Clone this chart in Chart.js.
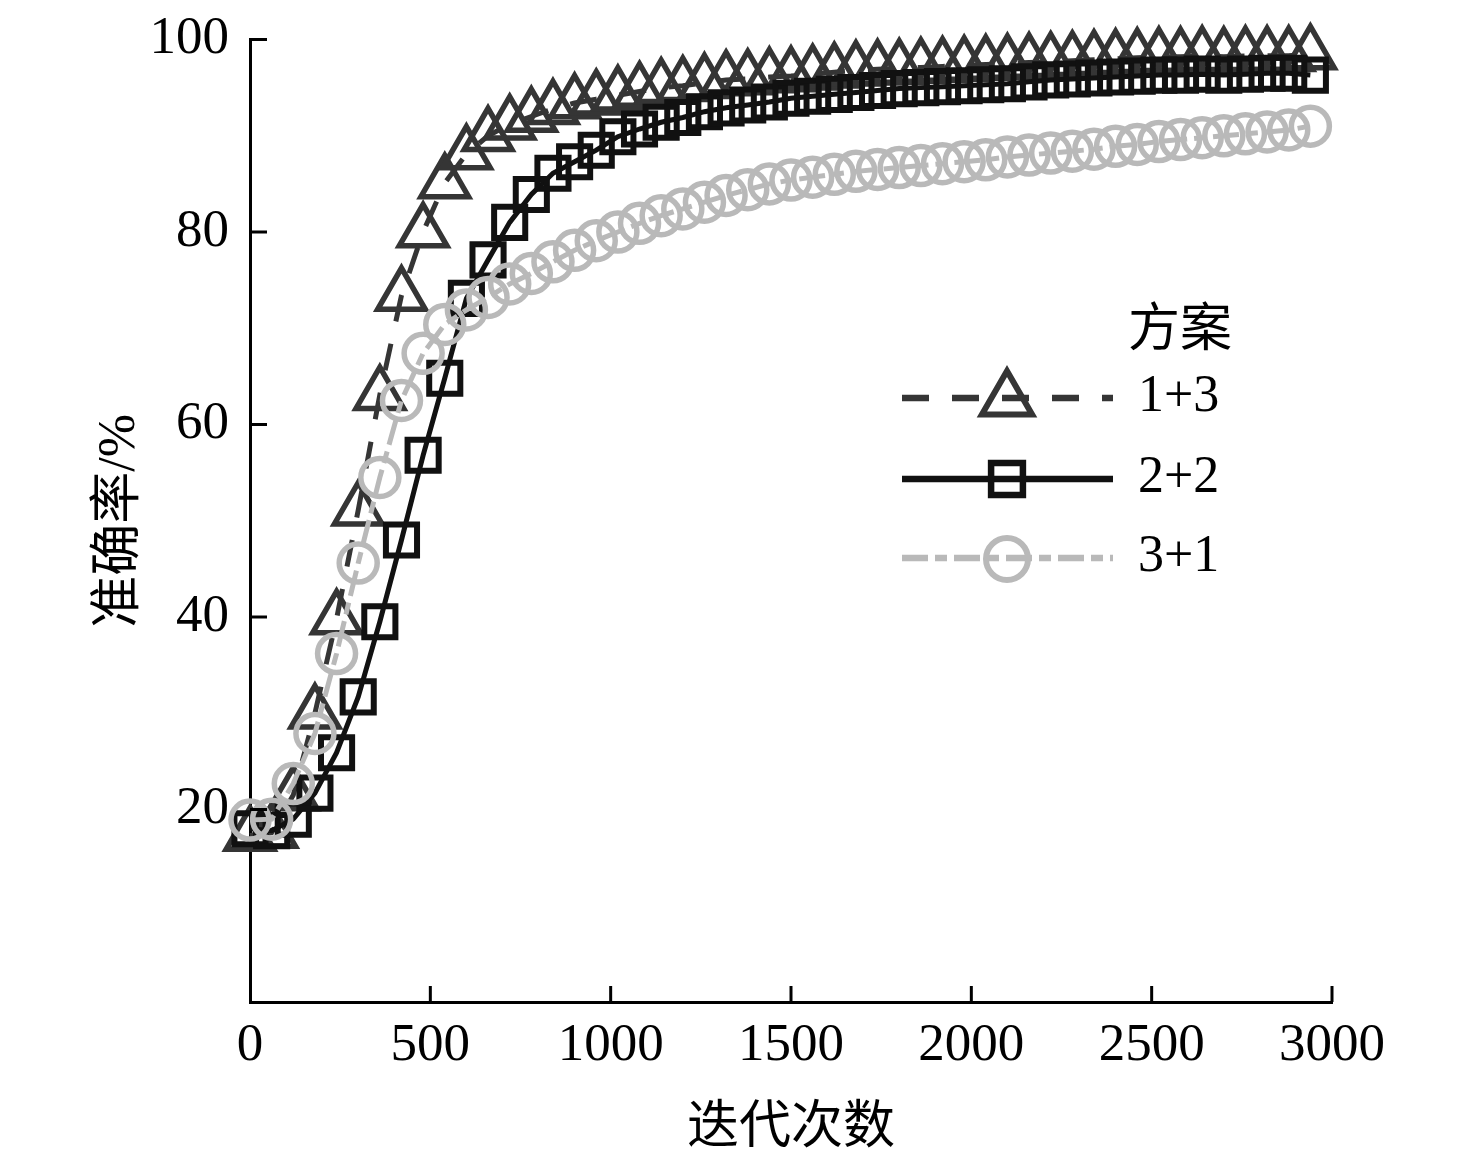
<!DOCTYPE html>
<html>
<head>
<meta charset="utf-8">
<script src="https://cdn.jsdelivr.net/npm/chart.js@4.4.1/dist/chart.umd.min.js"></script>
<style>
  html, body { margin: 0; padding: 0; background: #fff; }
  canvas { display: block; }
</style>
</head>
<body>
<canvas id="acc-chart" width="1476" height="1157"></canvas>
<script>
// DATA
const iterations = [0, 60, 120, 180, 240, 300, 360, 420, 480, 540, 600, 660, 720, 780, 840, 900, 960, 1020, 1080, 1140,
  1200, 1260, 1320, 1380, 1440, 1500, 1560, 1620, 1680, 1740, 1800, 1860, 1920, 1980, 2040, 2100, 2160, 2220, 2280, 2340,
  2400, 2460, 2520, 2580, 2640, 2700, 2760, 2820, 2880, 2940];

const acc13 = [17.3, 17.6, 21.5, 30.0, 39.8, 51.1, 63.1, 73.4, 80.0, 85.1,
  88.1, 90.0, 91.2, 92.0, 92.8, 93.4, 93.8, 94.2, 94.6, 95.0,
  95.2, 95.5, 95.8, 95.9, 96.1, 96.2, 96.4, 96.6, 96.8, 96.9,
  97.0, 97.1, 97.2, 97.3, 97.4, 97.5, 97.6, 97.7, 97.8, 97.9,
  98.0, 98.1, 98.2, 98.2, 98.3, 98.2, 98.3, 98.3, 98.3, 98.5];

const acc22 = [18.0, 17.8, 19.0, 21.7, 25.9, 31.7, 39.5, 48.0, 56.8, 64.8,
  73.1, 77.1, 81.0, 83.9, 86.1, 87.3, 88.5, 89.9, 90.7, 91.4,
  91.9, 92.5, 92.9, 93.2, 93.5, 93.9, 94.1, 94.3, 94.5, 94.7,
  94.9, 95.0, 95.1, 95.2, 95.3, 95.4, 95.6, 95.8, 95.9, 96.0,
  96.1, 96.2, 96.3, 96.3, 96.4, 96.3, 96.4, 96.5, 96.5, 96.3];

const acc31 = [18.9, 19.0, 22.7, 27.9, 36.2, 45.6, 54.5, 62.5, 67.4, 70.4,
  71.9, 73.2, 74.6, 75.7, 76.9, 78.1, 79.1, 80.0, 80.9, 81.7,
  82.4, 83.1, 83.8, 84.4, 85.0, 85.4, 85.7, 86.0, 86.3, 86.5,
  86.7, 86.9, 87.1, 87.3, 87.5, 87.8, 88.0, 88.2, 88.4, 88.6,
  88.9, 89.1, 89.4, 89.6, 89.8, 90.0, 90.2, 90.4, 90.6, 91.0];

const seriesNames = ["1+3", "2+2", "3+1"];
const xTicks = [0, 500, 1000, 1500, 2000, 2500, 3000];
const yTicks = [0, 20, 40, 60, 80, 100];

// STYLE
const SERIF = '"Liberation Serif", "Times New Roman", serif';
const CJK = '"Noto Sans CJK SC", sans-serif';
const styles = [
  { color: "#353535", dash: [27, 23], marker: "triangle", r: 27.5, legendR: 29, bw: 5.5 },
  { color: "#111111", dash: [], marker: "rect", r: 22, legendR: 22.5, bw: 6 },
  { color: "#b9b9b9", dash: [26, 7, 12, 7], marker: "circle", r: 19, legendR: 21, bw: 5.5 },
];

function toPoints(values) {
  return iterations.map((it, i) => ({ x: it, y: values[i] }));
}

function drawMarker(ctx, style, r, x, y) {
  ctx.beginPath();
  if (style === "triangle") {
    for (let k = 0; k < 3; k++) {
      const a = k * 2 * Math.PI / 3;
      const px = x + Math.sin(a) * r, py = y - Math.cos(a) * r;
      if (k === 0) ctx.moveTo(px, py); else ctx.lineTo(px, py);
    }
    ctx.closePath();
  } else if (style === "rect") {
    const s = r * Math.SQRT1_2;
    ctx.rect(x - s, y - s, 2 * s, 2 * s);
  } else {
    ctx.arc(x, y, r, 0, 2 * Math.PI);
  }
  ctx.stroke();
}

// ticks pointing into the plot, plus the legend
const axisDecor = {
  id: "axisDecor",
  afterDraw(chart) {
    const { ctx, chartArea, scales: { x, y } } = chart;
    ctx.save();
    ctx.strokeStyle = "#000";
    ctx.lineWidth = 3;
    xTicks.slice(1).forEach(v => {
      const px = x.getPixelForValue(v);
      ctx.beginPath();
      ctx.moveTo(px, chartArea.bottom);
      ctx.lineTo(px, chartArea.bottom - 16);
      ctx.stroke();
    });
    yTicks.slice(1).forEach(v => {
      const py = y.getPixelForValue(v);
      ctx.beginPath();
      ctx.moveTo(chartArea.left, py);
      ctx.lineTo(chartArea.left + 17, py);
      ctx.stroke();
    });

    // legend
    ctx.fillStyle = "#000";
    ctx.textBaseline = "middle";
    ctx.textAlign = "left";
    ctx.font = "52px " + CJK;
    ctx.fillText("方案", 1128, 326);
    const rowsY = [398, 479, 558];
    const markerOffset = [2, 0, 1];
    seriesNames.forEach((name, i) => {
      const st = styles[i];
      const ly = rowsY[i];
      ctx.strokeStyle = st.color;
      ctx.lineWidth = 6.5;
      ctx.lineCap = "butt";
      ctx.setLineDash(st.dash);
      ctx.beginPath();
      ctx.moveTo(902, ly);
      ctx.lineTo(1113, ly);
      ctx.stroke();
      ctx.setLineDash([]);
      ctx.lineWidth = st.bw + 0.5;
      drawMarker(ctx, st.marker, st.legendR, 1007, ly + markerOffset[i]);
      ctx.fillStyle = "#000";
      ctx.font = "52px " + SERIF;
      ctx.fillText(name, 1138, ly - 1);
    });
    ctx.restore();
  }
};

const allSeries = [acc13, acc22, acc31];

const chart = new Chart(document.getElementById("acc-chart").getContext("2d"), {
  type: "line",
  data: {
    datasets: allSeries.map((values, i) => ({
      label: seriesNames[i],
      data: toPoints(values),
      borderColor: styles[i].color,
      borderWidth: 5,
      borderDash: styles[i].dash,
      pointStyle: styles[i].marker,
      pointRadius: styles[i].r,
      pointBorderWidth: styles[i].bw,
      pointBorderColor: styles[i].color,
      pointBackgroundColor: "rgba(0,0,0,0)",
      tension: 0,
      clip: false,
      order: 3 - i,
    })),
  },
  options: {
    responsive: false,
    devicePixelRatio: 1,
    animation: false,
    events: [],
    layout: { padding: { left: 0, top: 39.5, right: 144, bottom: 0 } },
    plugins: {
      legend: { display: false },
      tooltip: { enabled: false },
    },
    scales: {
      x: {
        type: "linear",
        min: 0,
        max: 3000,
        afterBuildTicks: scale => { scale.ticks = xTicks.map(v => ({ value: v })); },
        afterFit: scale => {
          scale.height = 155;
          scale.paddingLeft = 0;
          scale.paddingRight = 0;
        },
        grid: { display: false, drawTicks: false },
        border: { display: true, color: "#000", width: 3 },
        ticks: {
          color: "#000",
          padding: 12,
          maxRotation: 0,
          callback: v => String(v),
          font: { family: SERIF, size: 53, lineHeight: 1.2 },
        },
        title: {
          display: true,
          text: "迭代次数",
          color: "#000",
          padding: { top: 0, bottom: 3 },
          font: { family: CJK, size: 52, lineHeight: 1.2 },
        },
      },
      y: {
        type: "linear",
        min: 0,
        max: 100,
        afterBuildTicks: scale => { scale.ticks = yTicks.map(v => ({ value: v })); },
        afterFit: scale => {
          scale.width = 250;
          scale.paddingTop = 0;
          scale.paddingBottom = 0;
        },
        grid: { display: false, drawTicks: false },
        border: { display: true, color: "#000", width: 3 },
        ticks: {
          color: "#000",
          padding: 21,
          callback: v => (v === 0 ? "" : String(v)),
          font: { family: SERIF, size: 53, lineHeight: 1.2 },
        },
        title: {
          display: true,
          text: "准确率/%",
          color: "#000",
          padding: { top: 89, bottom: 0 },
          font: { family: SERIF + ", " + CJK, size: 52, lineHeight: 1.2 },
        },
      },
    },
  },
  plugins: [axisDecor],
});
</script>
</body>
</html>
